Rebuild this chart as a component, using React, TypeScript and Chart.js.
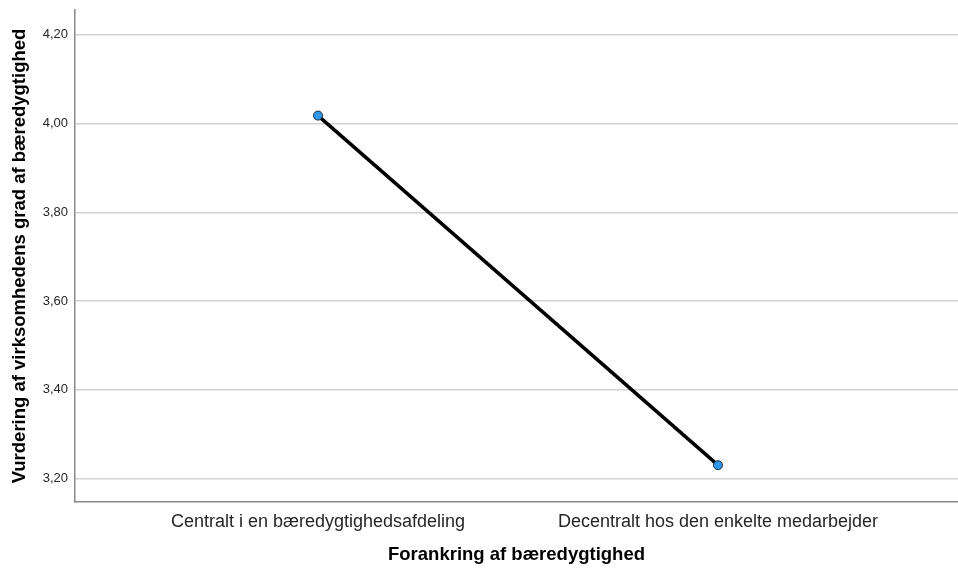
import React, { useEffect, useRef } from "react";
import { Chart, registerables } from "chart.js";

Chart.register(...registerables);

const categories = ["Centralt i en bæredygtighedsafdeling", "Decentralt hos den enkelte medarbejder"];
const means = [4.018, 3.23];
const yTicks = [3.2, 3.4, 3.6, 3.8, 4.0, 4.2];
const xTitle = "Forankring af bæredygtighed";
const yTitle = "Vurdering af virksomhedens grad af bæredygtighed";

export default function App() {
  const ref = useRef<HTMLCanvasElement>(null);
  useEffect(() => {
    if (!ref.current) return;
    const font = "'Liberation Sans', Arial, sans-serif";
    const chart = new Chart(ref.current, {
      type: "line",
      data: {
        datasets: [
          {
            data: means.map((v, i) => ({ x: i, y: v })),
            borderColor: "#000000",
            borderWidth: 3.5,
            pointRadius: 4.5,
            pointBorderWidth: 1,
            pointBackgroundColor: "#2f98ea",
            pointBorderColor: "#1a2a3a",
            tension: 0,
            clip: false,
          },
        ],
      },
      options: {
        animation: false,
        responsive: false,
        layout: { autoPadding: false, padding: { top: 10, left: 0, right: 0, bottom: 0 } },
        plugins: { legend: { display: false }, tooltip: { enabled: false } },
        scales: {
          x: {
            type: "linear",
            min: -0.6075,
            max: 1.6,
            afterBuildTicks: (s: any) => {
              s.ticks = categories.map((_, i) => ({ value: i }));
            },
            afterFit: (s: any) => {
              s.height = 67;
              s.paddingLeft = 0;
              s.paddingRight = 0;
            },
            grid: { display: false, drawTicks: false },
            border: { display: true, color: "#8a8a8a", width: 1.5 },
            ticks: {
              callback: (v: any) => categories[v as number] ?? "",
              font: { family: font, size: 18 },
              color: "#262626",
              padding: 9,
              maxRotation: 0,
              autoSkip: false,
            },
            title: {
              display: true,
              text: xTitle,
              font: { family: font, size: 18.5, weight: "bold" },
              color: "#000000",
              padding: { top: 3, bottom: 3 },
            },
          },
          y: {
            min: 3.147,
            max: 4.256,
            afterBuildTicks: (s: any) => {
              s.ticks = yTicks.map((v) => ({ value: v }));
            },
            afterFit: (s: any) => {
              s.width = 75;
              s.paddingTop = 0;
              s.paddingBottom = 0;
            },
            grid: { color: "#d2d2d2", lineWidth: 1.5, drawTicks: false },
            border: { display: true, color: "#8a8a8a", width: 1.5 },
            ticks: {
              callback: (v: any) => Number(v).toFixed(2).replace(".", ","),
              font: { family: font, size: 13 },
              color: "#262626",
              padding: 7,
            },
            title: {
              display: true,
              text: yTitle,
              font: { family: font, size: 18.5, weight: "bold" },
              color: "#000000",
              padding: { top: 9, bottom: 4 },
            },
          },
        },
      },
    });
    return () => chart.destroy();
  }, []);
  return (
    <div style={{ position: "fixed", left: 0, top: 0, width: 958, height: 569, background: "#fff" }}>
      <canvas ref={ref} width={958} height={569} style={{ width: 958, height: 569 }} />
    </div>
  );
}
